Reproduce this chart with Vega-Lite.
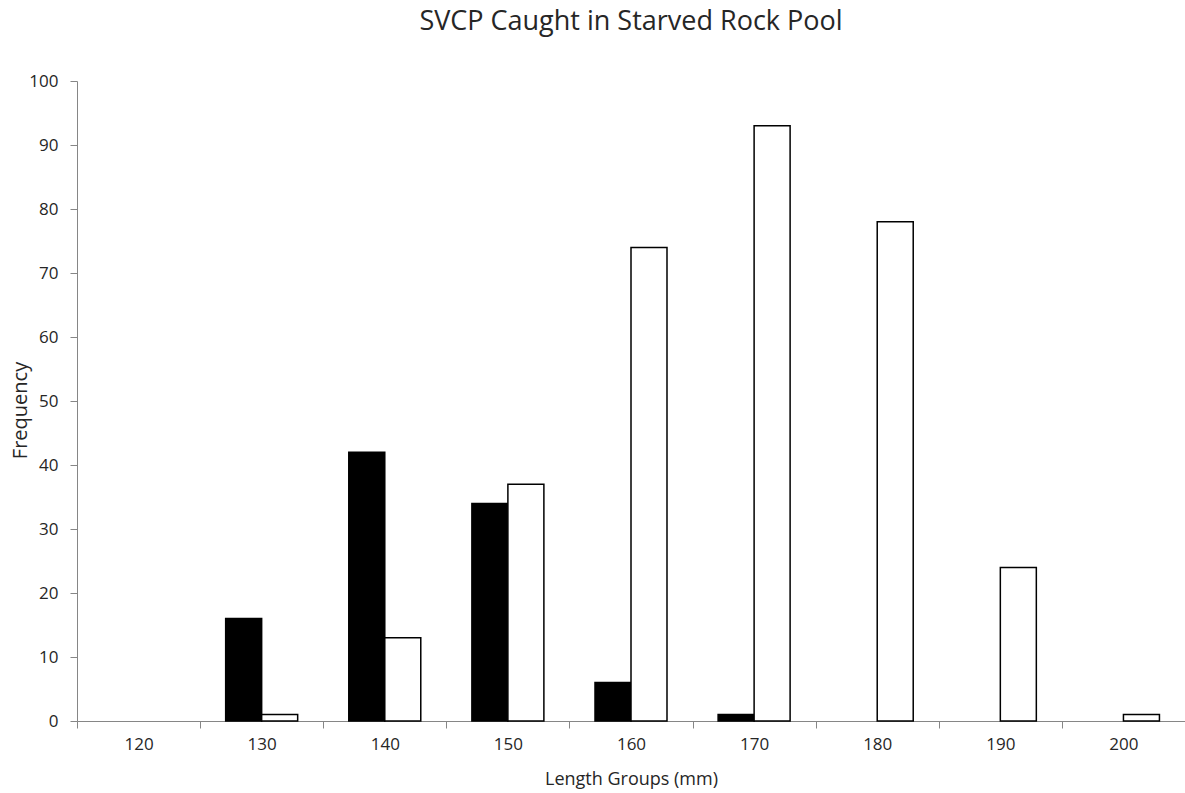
{
  "$schema": "https://vega.github.io/schema/vega-lite/v6.json",
  "width": 1108,
  "height": 640,
  "autosize": {"type": "none"},
  "padding": {"left": 77, "top": 81, "right": 0, "bottom": 72},
  "background": "white",
  "title": {
    "text": "SVCP Caught in Starved Rock Pool",
    "font": "Open Sans",
    "fontSize": 27,
    "fontWeight": "normal",
    "color": "#262626",
    "anchor": "middle",
    "offset": 36
  },
  "config": {
    "view": {"stroke": null},
    "axis": {"grid": false, "domainColor": "#868686", "tickColor": "#868686", "labelFont": "Open Sans", "titleFont": "Open Sans", "labelColor": "#262626", "titleColor": "#262626", "titleFontWeight": "normal"}
  },
  "data": {
    "values": [
      {"length": "120", "series": "Series 1", "count": 0},
      {"length": "120", "series": "Series 2", "count": 0},
      {"length": "130", "series": "Series 1", "count": 16},
      {"length": "130", "series": "Series 2", "count": 1},
      {"length": "140", "series": "Series 1", "count": 42},
      {"length": "140", "series": "Series 2", "count": 13},
      {"length": "150", "series": "Series 1", "count": 34},
      {"length": "150", "series": "Series 2", "count": 37},
      {"length": "160", "series": "Series 1", "count": 6},
      {"length": "160", "series": "Series 2", "count": 74},
      {"length": "170", "series": "Series 1", "count": 1},
      {"length": "170", "series": "Series 2", "count": 93},
      {"length": "180", "series": "Series 1", "count": 0},
      {"length": "180", "series": "Series 2", "count": 78},
      {"length": "190", "series": "Series 1", "count": 0},
      {"length": "190", "series": "Series 2", "count": 24},
      {"length": "200", "series": "Series 1", "count": 0},
      {"length": "200", "series": "Series 2", "count": 1}
    ]
  },
  "mark": {"type": "bar", "stroke": "black"},
  "encoding": {
    "x": {
      "field": "length",
      "type": "ordinal",
      "sort": "ascending",
      "scale": {"paddingInner": 0, "paddingOuter": 0},
      "axis": {
        "title": "Length Groups (mm)",
        "titleFontSize": 18,
        "labelFontSize": 17,
        "labelAngle": 0,
        "tickBand": "extent",
        "tickSize": 7,
        "labelPadding": 8,
        "titleBaseline": "middle",
        "titleY": 58
      }
    },
    "xOffset": {
      "field": "series",
      "type": "nominal",
      "scale": {"paddingInner": 0, "paddingOuter": 0.71}
    },
    "y": {
      "field": "count",
      "type": "quantitative",
      "scale": {"domain": [0, 100]},
      "axis": {
        "title": "Frequency",
        "titleFontSize": 20,
        "labelFontSize": 17,
        "values": [0, 10, 20, 30, 40, 50, 60, 70, 80, 90, 100],
        "tickSize": 7,
        "labelPadding": 12,
        "titleAngle": -90,
        "titleX": -57,
        "titleY": 329,
        "titleAlign": "center",
        "titleBaseline": "middle"
      }
    },
    "fill": {
      "field": "series",
      "type": "nominal",
      "scale": {"domain": ["Series 1", "Series 2"], "range": ["black", "white"]},
      "legend": null
    },
    "strokeWidth": {
      "condition": {"test": "datum.count == 0", "value": 0},
      "value": 1.5
    }
  }
}
